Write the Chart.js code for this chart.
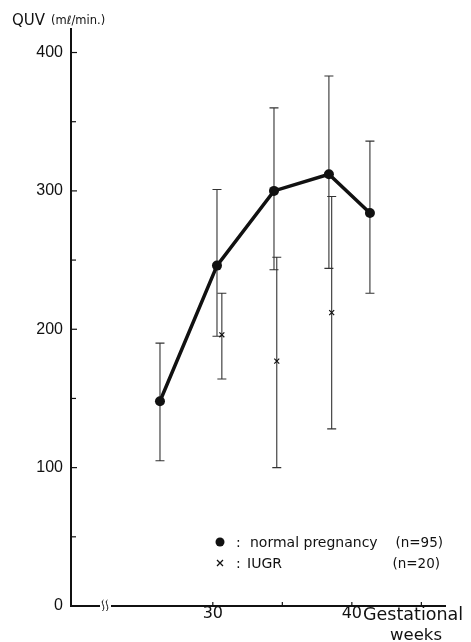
<!DOCTYPE html>
<html>
<head>
<meta charset="utf-8">
<script src="https://cdn.jsdelivr.net/npm/chart.js@4.4.1/dist/chart.umd.min.js"></script>
<style>
  html, body { margin: 0; padding: 0; background: #fff; }
  #wrap { width: 471px; height: 642px; position: relative; }
</style>
</head>
<body>
<div id="wrap"><canvas id="chart"></canvas></div>
<script>
// normal pregnancy (n=95)
const normalWeeks = [26.2, 30.3, 34.4, 38.35, 41.3];
const normalMean = [148, 246, 300, 312, 284];
const normalHigh = [190, 301, 360, 383, 336];
const normalLow = [105, 195, 243, 244, 226];

// IUGR (n=20)
const iugrWeeks = [30.65, 34.6, 38.55];
const iugrMean = [196, 177, 212];
const iugrHigh = [226, 252, 296];
const iugrLow = [164, 100, 128];

const yTicks = [0, 50, 100, 150, 200, 250, 300, 350, 400];
const yLabels = ["0", "", "100", "", "200", "", "300", "", "400"];
const xTicks = [30, 35, 40, 45];
const xLabels = ["30", "", "40", ""];

const ink = "#111";

function toPoints(xs, ys) {
  return xs.map((x, i) => ({ x: x, y: ys[i] }));
}

const errorBars = {
  id: "errorBars",
  beforeDatasetsDraw(chart) {
    const { ctx, scales: { x, y } } = chart;
    ctx.save();
    ctx.strokeStyle = "#333";
    ctx.lineWidth = 1.1;
    const bar = (wx, lo, hi) => {
      const px = x.getPixelForValue(wx);
      const top = y.getPixelForValue(hi);
      const bot = y.getPixelForValue(lo);
      ctx.beginPath();
      ctx.moveTo(px, top); ctx.lineTo(px, bot);
      ctx.moveTo(px - 4.5, top); ctx.lineTo(px + 4.5, top);
      ctx.moveTo(px - 4.5, bot); ctx.lineTo(px + 4.5, bot);
      ctx.stroke();
    };
    normalWeeks.forEach((w, i) => bar(w, normalLow[i], normalHigh[i]));
    iugrWeeks.forEach((w, i) => bar(w, iugrLow[i], iugrHigh[i]));
    ctx.restore();
  }
};

const decorations = {
  id: "decorations",
  afterDraw(chart) {
    const { ctx, scales: { x, y } } = chart;
    const left = x.left, bottom = y.bottom;
    ctx.save();
    ctx.strokeStyle = ink;
    ctx.fillStyle = ink;
    ctx.lineWidth = 1.2;

    // inward tick marks
    yTicks.forEach((v, i) => {
      if (v === 0) return;
      const py = y.getPixelForValue(v);
      ctx.beginPath();
      ctx.moveTo(left, py);
      ctx.lineTo(left + (yLabels[i] ? 6 : 5), py);
      ctx.stroke();
    });
    xTicks.forEach(v => {
      const px = x.getPixelForValue(v);
      ctx.beginPath();
      ctx.moveTo(px, bottom);
      ctx.lineTo(px, bottom - 4);
      ctx.stroke();
    });

    // axis break
    ctx.fillStyle = "#fff";
    ctx.fillRect(100, bottom - 2, 11, 4);
    ctx.lineWidth = 1;
    [101.5, 105.5].forEach(bx => {
      ctx.beginPath();
      ctx.moveTo(bx + 2, bottom - 6);
      ctx.bezierCurveTo(bx - 2, bottom - 4, bx + 5, bottom + 1, bx + 1, bottom + 5);
      ctx.stroke();
    });

    // axis titles
    ctx.fillStyle = ink;
    ctx.textBaseline = "alphabetic";
    ctx.textAlign = "left";
    ctx.font = "15px 'DejaVu Sans'";
    ctx.fillText("QUV", 12, 25);
    ctx.font = "11.5px 'DejaVu Sans'";
    ctx.fillText("(m\u2113/min.)", 51, 24);

    ctx.font = "17.5px 'DejaVu Sans'";
    ctx.fillText("Gestational", 363, 620);
    ctx.textAlign = "center";
    ctx.font = "16.5px 'DejaVu Sans'";
    ctx.fillText("weeks", 416, 640);

    // legend
    ctx.beginPath();
    ctx.arc(220, 542, 4.5, 0, Math.PI * 2);
    ctx.fill();
    ctx.lineWidth = 1.3;
    ctx.beginPath();
    ctx.moveTo(217, 560); ctx.lineTo(223, 566);
    ctx.moveTo(223, 560); ctx.lineTo(217, 566);
    ctx.stroke();
    ctx.textAlign = "left";
    ctx.font = "14px 'DejaVu Sans'";
    ctx.fillText(":", 236, 547);
    ctx.fillText(":", 236, 568);
    ctx.fillText("normal pregnancy", 250, 547);
    ctx.fillText("IUGR", 247, 568);
    ctx.textAlign = "right";
    ctx.font = "13.5px 'DejaVu Sans'";
    ctx.fillText("(n=95)", 443, 547);
    ctx.fillText("(n=20)", 440, 568);
    ctx.restore();
  }
};

new Chart(document.getElementById("chart"), {
  type: "scatter",
  data: {
    datasets: [
      {
        label: "normal pregnancy (n=95)",
        data: toPoints(normalWeeks, normalMean),
        showLine: true,
        borderColor: ink,
        backgroundColor: ink,
        borderWidth: 3.5,
        pointRadius: 5,
        pointBorderWidth: 0
      },
      {
        label: "IUGR (n=20)",
        data: toPoints(iugrWeeks, iugrMean),
        showLine: false,
        borderColor: ink,
        backgroundColor: ink,
        pointStyle: "crossRot",
        pointRadius: 3.5,
        pointBorderWidth: 1.2
      }
    ]
  },
  options: {
    responsive: true,
    maintainAspectRatio: false,
    animation: false,
    layout: { padding: { top: 29, right: 26, left: 0, bottom: 0 } },
    plugins: {
      legend: { display: false },
      tooltip: { enabled: false }
    },
    scales: {
      x: {
        type: "linear",
        min: 19.8,
        max: 46.7,
        afterBuildTicks: s => { s.ticks = xTicks.map(v => ({ value: v })); },
        afterFit: s => { s.height = 36; },
        grid: { display: false, drawTicks: false },
        border: { display: true, color: ink, width: 2 },
        ticks: {
          padding: -2,
          color: ink,
          font: { family: "'DejaVu Sans'", size: 16 },
          callback: v => xLabels[xTicks.indexOf(v)]
        }
      },
      y: {
        min: 0,
        max: 417,
        afterBuildTicks: s => { s.ticks = yTicks.map(v => ({ value: v })); },
        afterFit: s => { s.width = 71; },
        grid: { display: false, drawTicks: false },
        border: { display: true, color: ink, width: 2 },
        ticks: {
          padding: 8,
          color: ink,
          font: { family: "'Liberation Sans'", size: 16 },
          callback: v => yLabels[yTicks.indexOf(v)]
        }
      }
    }
  },
  plugins: [errorBars, decorations]
});
</script>
</body>
</html>
